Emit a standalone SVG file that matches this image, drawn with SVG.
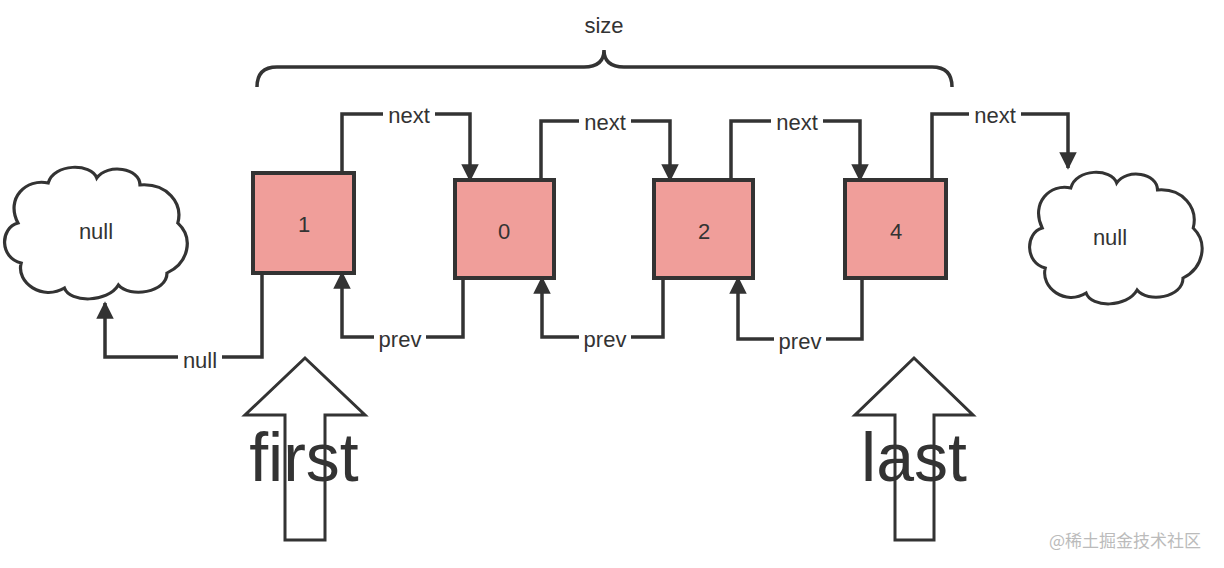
<svg xmlns="http://www.w3.org/2000/svg" width="1224" height="568" viewBox="0 0 1224 568">
<style>
.box{fill:#f09e9a;stroke:#333;stroke-width:4}
.ln{fill:none;stroke:#333;stroke-width:3.5}
.t{font-family:"Liberation Sans",Arial,sans-serif;fill:#333;text-anchor:middle}
.lbl{font-size:22px}
.cloud{fill:#fff;stroke:#333;stroke-width:3}
.big{fill:#fff;stroke:#333;stroke-width:3}
</style>
<defs>
<marker id="a" viewBox="0 0 10 10" refX="9" refY="5" markerWidth="6" markerHeight="5" orient="auto"><path d="M0,0 L10,5 L0,10 z" fill="#333"/></marker>
<path id="cl" d="M40,20 C45,0 80,0 85,15 C95,0 125,5 125,22 C150,20 165,40 160,60 C175,75 170,100 150,110 C150,130 115,135 105,122 C95,140 60,140 55,125 C35,138 10,120 15,100 C-5,95 -5,65 12,60 C0,35 20,15 40,20 Z"/>
</defs>
<g id="size">
<path class="ln" d="M257,87 Q257,67 277,67 L584,67 Q604,67 604,50 Q604,67 624,67 L932,67 Q952,67 952,87" stroke-width="3"/>
<text class="t" x="604" y="33" font-size="22">size</text>
</g>
<g id="cloudL"><use href="#cl" class="cloud" transform="translate(5,163) scale(1.08,1.0)"/><text class="t lbl" x="96" y="239">null</text></g>
<g id="cloudR"><use href="#cl" class="cloud" transform="translate(1030,168) scale(1.02,1.0)"/><text class="t lbl" x="1110" y="245">null</text></g>
<g id="n1"><rect class="box" x="253" y="173" width="101" height="100"/><text class="t lbl" x="304" y="232">1</text></g>
<g id="n0"><rect class="box" x="455" y="180" width="99" height="98"/><text class="t lbl" x="504" y="239">0</text></g>
<g id="n2"><rect class="box" x="654" y="180" width="99" height="98"/><text class="t lbl" x="704" y="239">2</text></g>
<g id="n4"><rect class="box" x="845" y="180" width="101" height="98"/><text class="t lbl" x="896" y="239">4</text></g>
<g id="connectors">
<path class="ln" marker-end="url(#a)" d="M342,173 V114 H470 V180"/>
<path class="ln" marker-end="url(#a)" d="M541,180 V121 H670 V180"/>
<path class="ln" marker-end="url(#a)" d="M731,180 V121 H860 V180"/>
<path class="ln" marker-end="url(#a)" d="M932,180 V114 H1068 V168"/>
<path class="ln" marker-end="url(#a)" d="M463,278 V337 H342 V273"/>
<path class="ln" marker-end="url(#a)" d="M663,278 V337 H542 V278"/>
<path class="ln" marker-end="url(#a)" d="M862,278 V339 H738 V278"/>
<path class="ln" marker-end="url(#a)" d="M262,273 V357 H105 V303"/>
<g class="t lbl">
<rect x="383" y="104" width="52" height="20" fill="#fff"/><text x="409" y="123">next</text>
<rect x="579" y="111" width="52" height="20" fill="#fff"/><text x="605" y="130">next</text>
<rect x="771" y="111" width="52" height="20" fill="#fff"/><text x="797" y="130">next</text>
<rect x="969" y="104" width="52" height="20" fill="#fff"/><text x="995" y="123">next</text>
<rect x="374" y="329" width="52" height="22" fill="#fff"/><text x="400" y="347">prev</text>
<rect x="579" y="329" width="52" height="22" fill="#fff"/><text x="605" y="347">prev</text>
<rect x="774" y="331" width="52" height="22" fill="#fff"/><text x="800" y="349">prev</text>
<rect x="178" y="350" width="44" height="20" fill="#fff"/><text x="200" y="368">null</text>
</g>
</g>
<g id="first">
<path class="big" d="M305,358 L365,415 L325,415 L325,540 L285,540 L285,415 L245,415 Z"/>
<text class="t" x="304" y="481" font-size="68">first</text>
</g>
<g id="last">
<path class="big" d="M914,358 L973,415 L934,415 L934,540 L895,540 L895,415 L855,415 Z"/>
<text class="t" x="914" y="481" font-size="68">last</text>
</g>
<text x="1125" y="547" font-family="'Noto Sans CJK SC',sans-serif" font-size="17" fill="#bbb" text-anchor="middle">@稀土掘金技术社区</text>
</svg>
